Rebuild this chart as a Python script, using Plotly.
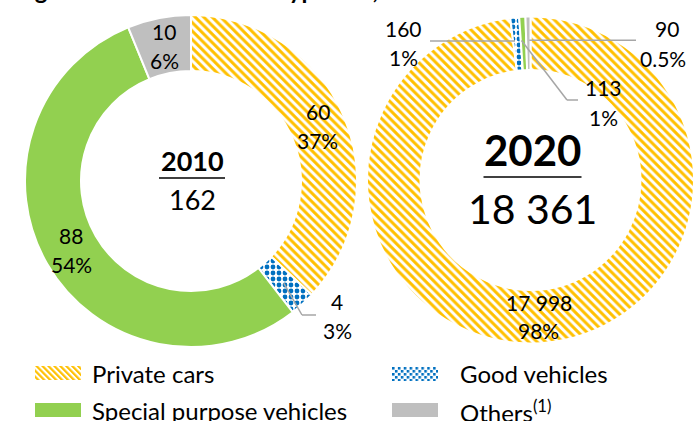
import math
import base64
import plotly.graph_objects as go

# ---------------- data ----------------
categories = ["Private cars", "Good vehicles", "Special purpose vehicles", "Others"]
legend_labels = ["Private cars", "Good vehicles", "Special purpose vehicles", "Others<sup>(1)</sup>"]
years = ["2010", "2020"]
values_2010 = [60, 4, 88, 10]
values_2020 = [17998, 160, 113, 90]
pct_labels_2010 = ["37%", "3%", "54%", "6%"]
pct_labels_2020 = ["98%", "1%", "1%", "0.5%"]

# ---------------- style ----------------
W, H = 694, 421
FONT = "Lato"
colors = ["#FFC000", "#0070C0", "#92D050", "#BFBFBF"]
pattern_shapes = ["\\", ".", "", ""]
pattern_bg = ["white", "white", "#92D050", "#BFBFBF"]
LEADER = "#A6A6A6"


def fmt(v):
    return f"{v:,}".replace(",", " ")


def px(x):
    return x / W


def py(y):
    return 1 - y / H


# pie geometry in pixels (domain boxes)
left_dom = dict(x0=25, x1=357, y0=15, y1=347)
right_dom = dict(x0=367, x1=694, y0=14, y1=346)
INNER_R = 110


def geom(d):
    w, h = d["x1"] - d["x0"], d["y1"] - d["y0"]
    r = min(w, h) / 2
    return (d["x0"] + d["x1"]) / 2, (d["y0"] + d["y1"]) / 2, r


def mid_pos(values, i, cx, cy, rm):
    cum = sum(values[:i]) + values[i] / 2
    th = 2 * math.pi * cum / sum(values)
    return cx + rm * math.sin(th), cy - rm * math.cos(th)


fig = go.Figure()

for vals, d in [(values_2010, left_dom), (values_2020, right_dom)]:
    cx, cy, r = geom(d)
    fig.add_trace(go.Pie(
        labels=categories, values=vals, sort=False, direction="clockwise", rotation=0,
        hole=INNER_R / r, textinfo="none", hoverinfo="label+value+percent",
        showlegend=False,
        domain=dict(x=[px(d["x0"]), px(d["x1"])], y=[py(d["y1"]), py(d["y0"])]),
        marker=dict(colors=colors, line=dict(color="white", width=2),
                    pattern=dict(shape=pattern_shapes, fgcolor=colors, bgcolor=pattern_bg,
                                 size=6, solidity=0.5)),
    ))

annotations = []
shapes = []


def ann(x, y, text, size, bold=False, xanchor="center", yanchor="middle"):
    annotations.append(dict(
        x=px(x), y=py(y), xref="paper", yref="paper", text=f"<b>{text}</b>" if bold else text,
        showarrow=False, xanchor=xanchor, yanchor=yanchor,
        font=dict(family=FONT, size=size, color="black")))


def line(x0, y0, x1, y1, color=LEADER, width=1.5):
    shapes.append(dict(type="line", xref="paper", yref="paper",
                       x0=px(x0), y0=py(y0), x1=px(x1), y1=py(y1),
                       line=dict(color=color, width=width)))


LBL = 21
# ---- 2010 ----
cx, cy, r = geom(left_dom)
rm = (r + INNER_R) / 2
for i in [0, 2, 3]:
    x, y = mid_pos(values_2010, i, cx, cy, rm)
    ann(x, y - 14.5, fmt(values_2010[i]), LBL)
    ann(x, y + 14.5, pct_labels_2010[i], LBL)
# good vehicles (outside with leader)
x, y = mid_pos(values_2010, 1, cx, cy, rm)
line(x, y, 302, 315)
line(302, 315, 316, 315)
ann(337, 301, fmt(values_2010[1]), LBL)
ann(337, 330, pct_labels_2010[1], LBL)
# centre
ann(cx + 1, 161, years[0], 27, bold=True)
line(cx - 32, 178, cx + 34, 178, color="black", width=1.3)
ann(cx + 1, 199, fmt(sum(values_2010)), 27)

# ---- 2020 ----
cx, cy, r = geom(right_dom)
rm = (r + INNER_R) / 2
x, y = mid_pos(values_2020, 0, cx, cy, rm)
ann(x, y - 14, fmt(values_2020[0]), LBL)
ann(x, y + 14, pct_labels_2020[0], LBL)
# good vehicles
x, y = mid_pos(values_2020, 1, cx - 2, cy, rm + 3)
line(x, y, 430, y)
ann(403, 28, fmt(values_2020[1]), LBL)
ann(403, 57, pct_labels_2020[1], LBL)
# special purpose
x, y = mid_pos(values_2020, 2, cx - 2, cy, rm + 3)
line(x, y, 567, 100)
line(567, 100, 578, 100)
ann(603, 87, fmt(values_2020[2]), LBL)
ann(603, 117, pct_labels_2020[2], LBL)
# others
x, y = mid_pos(values_2020, 3, cx - 2, cy, rm + 3)
line(x + 3, y, 636, y)
ann(667, 28, fmt(values_2020[3]), LBL)
ann(663, 58, pct_labels_2020[3], LBL)
# centre
ann(cx + 2, 150, years[1], 42, bold=True)
line(cx - 47, 177, cx + 51, 177, color="black", width=1.5)
ann(cx + 2, 208, fmt(sum(values_2020)), 41)

# ---- title (clipped at the top of the picture) ----
annotations.append(dict(
    x=px(13), y=1, xref="paper", yref="paper", xanchor="left", yanchor="bottom", yshift=-6,
    text="<b>Figure 1: Electric vehicle type mix, 2010 and 2020</b>",
    showarrow=False, font=dict(family=FONT, size=24, color="black")))

# ---- legend (swatches + real text) ----
svg_stripes = ("<svg xmlns='http://www.w3.org/2000/svg' width='47' height='14'>"
               "<defs><pattern id='p' width='4.3' height='4.3' patternUnits='userSpaceOnUse' "
               "patternTransform='rotate(-45)'><rect width='4.3' height='4.3' fill='white'/>"
               "<rect width='2.2' height='4.3' fill='#FFC000'/></pattern></defs>"
               "<rect width='47' height='14' fill='url(#p)'/></svg>")
svg_dots = ("<svg xmlns='http://www.w3.org/2000/svg' width='47' height='14'>"
            "<defs><pattern id='d' width='6' height='6' patternUnits='userSpaceOnUse'>"
            "<rect width='6' height='6' fill='white'/>"
            "<rect x='0' y='0' width='2.6' height='2.6' fill='#0070C0'/>"
            "<rect x='3' y='3' width='2.6' height='2.6' fill='#0070C0'/></pattern></defs>"
            "<rect width='47' height='14' fill='url(#d)'/></svg>")


def uri(svg):
    return "data:image/svg+xml;base64," + base64.b64encode(svg.encode()).decode()


images = []
leg_pos = [(35, 366, 90, 373), (392, 367, 458, 373), (35, 403, 90, 410.5), (392, 403, 458, 410.5)]
sw_w, sw_h = 46, 14
for i, (sx, sy, tx, ty) in enumerate(leg_pos):
    if pattern_shapes[i] == "\\":
        images.append(dict(source=uri(svg_stripes), xref="paper", yref="paper",
                           x=px(sx), y=py(sy), sizex=sw_w / W, sizey=sw_h / H,
                           sizing="stretch", xanchor="left", yanchor="top", layer="above"))
    elif pattern_shapes[i] == ".":
        images.append(dict(source=uri(svg_dots), xref="paper", yref="paper",
                           x=px(sx), y=py(sy), sizex=sw_w / W, sizey=sw_h / H,
                           sizing="stretch", xanchor="left", yanchor="top", layer="above"))
    else:
        shapes.append(dict(type="rect", xref="paper", yref="paper",
                           x0=px(sx), x1=px(sx + sw_w), y0=py(sy + sw_h), y1=py(sy),
                           fillcolor=colors[i], line=dict(width=0)))
    ann(tx, ty, legend_labels[i], 24, xanchor="left")

fig.update_layout(
    width=W, height=H, margin=dict(l=0, r=0, t=0, b=0),
    paper_bgcolor="white", plot_bgcolor="white",
    font=dict(family=FONT, color="black"),
    annotations=annotations, shapes=shapes, images=images,
    showlegend=False,
)

fig.write_html(
    "out.html",
    config={"displayModeBar": False},
    post_script="document.body.style.margin='0';document.body.style.overflow='hidden';"
                "document.documentElement.style.overflow='hidden';",
)
